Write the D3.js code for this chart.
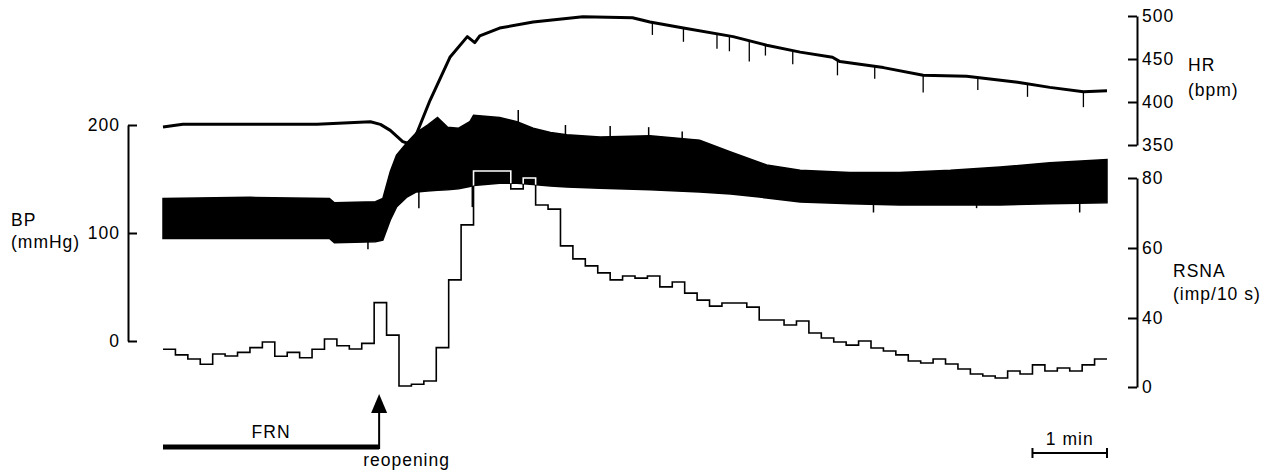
<!DOCTYPE html>
<html><head><meta charset="utf-8">
<script src="https://cdn.jsdelivr.net/npm/d3@7"></script>
<style>
body{margin:0;background:#fff;}
text{font-family:"Liberation Sans",Arial,Helvetica,sans-serif;font-size:17.5px;letter-spacing:1px;fill:#000;}
</style></head>
<body><svg id="chart" width="1272" height="471"></svg>
<script>
// ---- data (time in s, 10-s RSNA bins) ----
const bpTime   = [0,70,134,138,171,177,183,188,196,204,213,221,229,238,247,250,271,285,298,312,325,352,392,432,457,486,513,553,593,634,674,714,760];
const bpSys    = [132,133,132,128,129,132,157,172,183,193,200,207,198,197,203,209,207,203,197,193,191,189,190,186,175,163,158,156,156,158,161,165,168];
const bpDia    = [95,95,95,91,92,93.5,112,124,133,138,139,139.5,140,141,143,144,146,146,145,143.5,142.5,141.5,140,138,136,132.5,128.7,127,126,126,126,127,128];
const bpSpikeUpTime = [286,324,360,391,418];
const bpSpikeUpVal  = [214,200,199,198,194];
const bpSpikeDnTime = [165,206,249,572,655,738];
const bpSpikeDnVal  = [85,123,124,119,123,119];

const hrTime = [0,16,70,124,167,175,183,193,197,203,215,231,245,251,255,271,298,338,378,392,419,459,486,513,539,545,580,612,647,688,714,741,760];
const hrVal  = [371,374,374,374,377,374,367,354,352,359,402,452,476,469,477,486,493,499,498,493,486,476,466,458,452,447,440,431,430,423,417,412,413];
const hrSpikeTime = [394,419,446,456,472,485,507,543,573,612,656,696,741];
const hrSpikeVal  = [478,470,462,459,447,454,444,431,427,411,414,406,394];

const rsna = [21.9,18.6,16.2,13.2,19.1,18.0,20.1,22.8,26.1,17.8,
              20.1,17.0,21.9,27.8,23.9,22.0,25.3,44.4,30.1,0.6,
              1.6,3.5,22.8,50.9,66.6,82,82,82,76.9,80,
              72.3,71.1,60.6,56.9,54.9,52.9,50.9,52,51.4,52,
              48.9,50.3,47.1,45.1,43.4,44.3,44.3,43.1,38.8,38.8,
              35.9,38.3,31.3,28.4,26.1,24.3,26.7,22.6,20.9,18.6,
              15.1,13.9,16.2,13.3,10.4,7.5,6.4,5.2,9.3,7.5,
              12.8,9.3,11.0,9.3,12.8,16.2];
const binSec = 10;
const bpTicks = [0,100,200];
const hrTicks = [350,400,450,500];
const rsnaTicks = [0,40,60,80];
const reopenTime = 174;
const scaleBarSec = 60;

// ---- scales ----
const svg = d3.select("#chart");
const tEnd = rsna.length*binSec;
const x   = d3.scaleLinear().domain([0,tEnd]).range([163,1107]);
const yBP = d3.scaleLinear().domain([0,200]).range([341,125]);
const yHR = d3.scaleLinear().domain([350,500]).range([145,16]);
const yRS = d3.scaleLinear().domain([0,40,80]).range([387,318,178]);
const sysAt = d3.scaleLinear().domain(bpTime).range(bpSys);
const diaAt = d3.scaleLinear().domain(bpTime).range(bpDia);
const hrAt  = d3.scaleLinear().domain(hrTime).range(hrVal);

// ---- axes ----
function styleAxis(g){
  g.selectAll(".domain").attr("stroke","#000").attr("stroke-width",2);
  g.selectAll(".tick line").attr("stroke","#000").attr("stroke-width",2);
  g.selectAll(".tick text").attr("font-family",null).attr("font-size",null).attr("fill","#000");
}
svg.append("g").attr("transform","translate(128,0)")
  .call(d3.axisLeft(yBP).tickValues(bpTicks).tickSize(-9).tickSizeOuter(0).tickPadding(8))
  .call(styleAxis);
svg.append("g").attr("transform","translate(1137,0)")
  .call(d3.axisRight(yHR).tickValues(hrTicks).tickSize(-9).tickSizeOuter(0).tickPadding(5))
  .call(styleAxis);
svg.append("g").attr("transform","translate(1137,0)")
  .call(d3.axisRight(yRS).tickValues(rsnaTicks).tickSize(-9).tickSizeOuter(0).tickPadding(5))
  .call(styleAxis);

// axis titles
svg.append("text").attr("x",11).attr("y",226).text("BP");
svg.append("text").attr("x",11).attr("y",248).text("(mmHg)");
svg.append("text").attr("x",1188).attr("y",71).text("HR");
svg.append("text").attr("x",1188).attr("y",96).text("(bpm)");
svg.append("text").attr("x",1173).attr("y",277).text("RSNA");
svg.append("text").attr("x",1173).attr("y",300).text("(imp/10 s)");

// ---- BP band ----
const bpData = bpTime.map((t,i)=>({t, sys:bpSys[i], dia:bpDia[i]}));
const bpArea = d3.area().x(d=>x(d.t)).y0(d=>yBP(d.dia)).y1(d=>yBP(d.sys));
svg.append("defs").append("clipPath").attr("id","bpclip")
  .append("path").attr("d",bpArea(bpData));
svg.append("path").attr("d",bpArea(bpData))
  .attr("fill","#000").attr("stroke","#000").attr("stroke-width",1.5);
svg.append("g").selectAll("line").data(bpSpikeUpTime).join("line")
  .attr("x1",d=>x(d)).attr("x2",d=>x(d))
  .attr("y1",(d,i)=>yBP(bpSpikeUpVal[i]))
  .attr("y2",d=>yBP(sysAt(d))+2)
  .attr("stroke","#000").attr("stroke-width",1.5);
svg.append("g").selectAll("line").data(bpSpikeDnTime).join("line")
  .attr("x1",d=>x(d)).attr("x2",d=>x(d))
  .attr("y1",(d,i)=>yBP(bpSpikeDnVal[i]))
  .attr("y2",d=>yBP(diaAt(d))-2)
  .attr("stroke","#000").attr("stroke-width",1.5);

// ---- HR ----
const hrLine = d3.line().x((d,i)=>x(hrTime[i])).y(d=>yHR(d));
svg.append("path").attr("d",hrLine(hrVal))
  .attr("fill","none").attr("stroke","#000").attr("stroke-width",3).attr("stroke-linejoin","round");
svg.append("g").selectAll("line").data(hrSpikeTime).join("line")
  .attr("x1",d=>x(d)).attr("x2",d=>x(d))
  .attr("y1",d=>yHR(hrAt(d)))
  .attr("y2",(d,i)=>yHR(hrSpikeVal[i]))
  .attr("stroke","#000").attr("stroke-width",1.3);

// ---- RSNA ----
const rsPts = rsna.map((v,i)=>[i*binSec,v]).concat([[tEnd, rsna[rsna.length-1]]]);
const rsLine = d3.line().x(d=>x(d[0])).y(d=>yRS(d[1])).curve(d3.curveStepAfter);
svg.append("path").attr("d",rsLine(rsPts))
  .attr("fill","none").attr("stroke","#000").attr("stroke-width",1.6);
svg.append("path").attr("d",rsLine(rsPts)).attr("clip-path","url(#bpclip)")
  .attr("fill","none").attr("stroke","#fff").attr("stroke-width",1.6);

// ---- annotations ----
const xr = x(reopenTime);
svg.append("line").attr("x1",x(0)).attr("x2",xr).attr("y1",447).attr("y2",447)
  .attr("stroke","#000").attr("stroke-width",5);
svg.append("text").attr("x",(x(0)+xr)/2).attr("y",438).attr("text-anchor","middle").text("FRN");
svg.append("line").attr("x1",xr).attr("x2",xr).attr("y1",449).attr("y2",410)
  .attr("stroke","#000").attr("stroke-width",2);
svg.append("path").attr("d",`M${xr},394 L${xr-8},413 L${xr+8},413 Z`).attr("fill","#000");
svg.append("text").attr("x",xr-16).attr("y",466).text("reopening");

// scale bar
const sb0 = x(tEnd-scaleBarSec), sb1 = x(tEnd);
svg.append("line").attr("x1",sb0).attr("x2",sb1).attr("y1",453).attr("y2",453).attr("stroke","#000").attr("stroke-width",2);
[sb0,sb1].forEach(v=>svg.append("line").attr("x1",v).attr("x2",v).attr("y1",448).attr("y2",458).attr("stroke","#000").attr("stroke-width",2));
svg.append("text").attr("x",(sb0+sb1)/2).attr("y",445).attr("text-anchor","middle").text("1 min");
</script></body></html>
